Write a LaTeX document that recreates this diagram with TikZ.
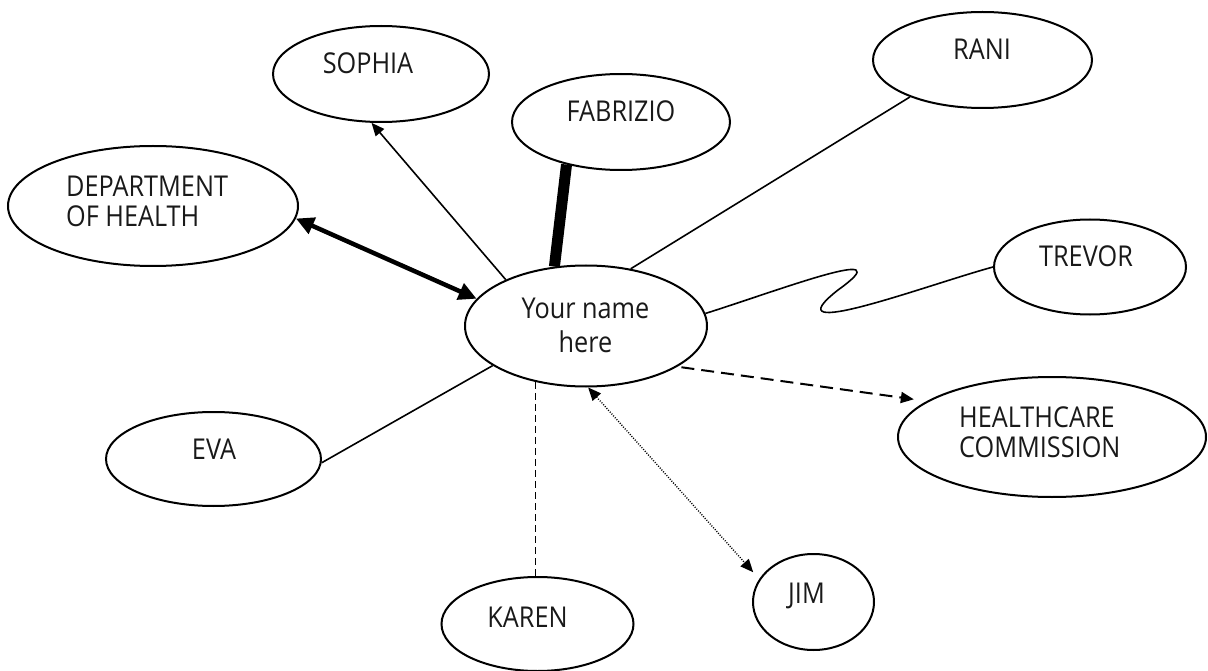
\documentclass[tikz,border=0pt]{standalone}
\usepackage{fontspec}
\setmainfont[FakeStretch=0.88]{Open Sans}
\usetikzlibrary{shapes.geometric,arrows.meta}
\begin{document}
\begin{tikzpicture}[x=1pt,y=-1pt,
  ell/.style={ellipse,draw,line width=2pt,inner sep=0pt},
  lbl/.style={font=\fontsize{28.7}{34}\selectfont,anchor=base,inner sep=0pt,text=black!90},
  conn/.style={line width=1.6pt},
  tip/.style={-{Triangle[length=13pt,width=11pt]}},
  dtip/.style={{Triangle[length=13pt,width=11pt]}-{Triangle[length=13pt,width=11pt]}},
  bigtip/.style={{Triangle[length=18pt,width=17pt]}-{Triangle[length=18pt,width=17pt]}}]
\useasboundingbox (0,0) rectangle (1208,671);
% ellipses
\node[ell,minimum width=242pt,minimum height=121pt] (c) at (586,326) {};
\node[ell,minimum width=216pt,minimum height=96pt] (sophia) at (381,74) {};
\node[ell,minimum width=218pt,minimum height=96pt] (fab) at (621,122) {};
\node[ell,minimum width=219pt,minimum height=96pt] (rani) at (982.5,60) {};
\node[ell,minimum width=290pt,minimum height=120pt] (dept) at (153,206) {};
\node[ell,minimum width=192pt,minimum height=95pt] (trevor) at (1090,267) {};
\node[ell,minimum width=215pt,minimum height=94pt] (eva) at (213.5,459) {};
\node[ell,minimum width=308pt,minimum height=120pt] (hc) at (1052,437) {};
\node[ell,minimum width=192pt,minimum height=94pt] (karen) at (537.5,624) {};
\node[ell,minimum width=121pt,minimum height=96pt] (jim) at (813.5,602) {};
% labels
\node[lbl] (t-sophia) at (368,74) {SOPHIA};
\node[lbl] (t-fab) at (621,122) {FABRIZIO};
\node[lbl] (t-rani) at (982,60) {RANI};
\node[lbl,anchor=base west] (t-dept1) at (66,197) {DEPARTMENT};
\node[lbl,anchor=base west] (t-dept2) at (66,227) {OF HEALTH};
\node[lbl] (t-trevor) at (1086,267) {TREVOR};
\node[lbl] (t-c1) at (585.5,318) {Your name};
\node[lbl] (t-c2) at (585.5,352) {here};
\node[lbl] (t-eva) at (214,459) {EVA};
\node[lbl,anchor=base west] (t-hc1) at (959,427) {HEALTHCARE};
\node[lbl,anchor=base west] (t-hc2) at (959,457) {COMMISSION};
\node[lbl] (t-karen) at (527.5,627) {KAREN};
\node[lbl] (t-jim) at (806.5,603) {JIM};
% connectors
\draw[line width=4.5pt,bigtip] (dept.-5) -- (c.166);
\draw[conn,tip] (c.150) -- (sophia.259);
\draw[line width=11pt] (c.118) -- (fab.218.5);
\draw[conn] (c.52) -- (rani.207);
\coordinate (tw) at (838,290);
\draw[conn] (c.6) .. controls (780,290) and (905,242) .. (tw)
  .. controls (768,345) and (930,284) .. (trevor.west);
\draw[conn] (c.203) -- (eva.-2);
\draw[line width=1.8pt,dash pattern=on 7pt off 4pt] (c.228.5) -- (c.228.5 |- karen.north);
\draw[line width=1.4pt,dash pattern=on 1pt off 1.5pt,dtip,shorten >=9pt] (c.-88) -- (jim.157.5);
\draw[line width=2pt,dash pattern=on 13pt off 7pt,tip,shorten <=4pt,shorten >=13pt] (c.-24.6) -- (hc.164);
\end{tikzpicture}
\end{document}
